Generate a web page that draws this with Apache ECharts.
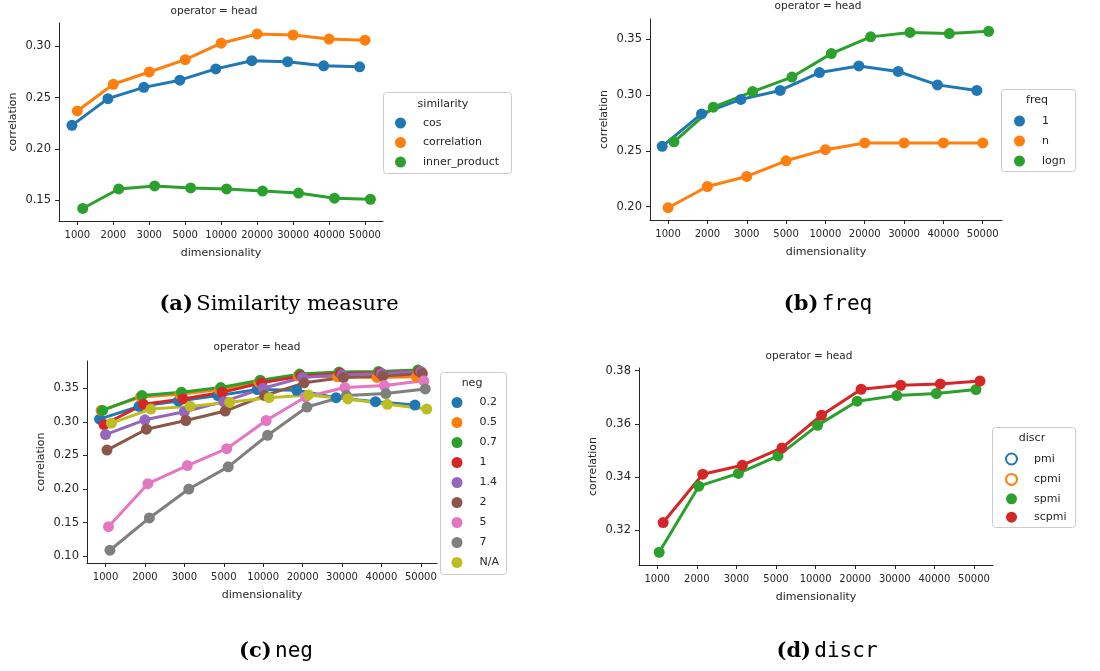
<!DOCTYPE html>
<html>
<head>
<meta charset="utf-8">
<script src="https://cdn.jsdelivr.net/npm/echarts@6/dist/echarts.min.js"></script>
<style>
  html, body { margin: 0; padding: 0; background: #fff; }
  #main { width: 1100px; height: 671px; }
</style>
</head>
<body>
<div id="main"></div>
<script>
// x categories (shared by all four panels)
var dims = ['1000', '2000', '3000', '5000', '10000', '20000', '30000', '40000', '50000'];

// (a) similarity
var simCos         = [0.223, 0.249, 0.260, 0.267, 0.278, 0.286, 0.285, 0.281, 0.280];
var simCorrelation = [0.237, 0.263, 0.275, 0.287, 0.303, 0.312, 0.311, 0.307, 0.306];
var simInner       = [0.142, 0.161, 0.164, 0.162, 0.161, 0.159, 0.157, 0.152, 0.151];

// (b) freq
var freqOne  = [0.254, 0.283, 0.296, 0.304, 0.320, 0.326, 0.321, 0.309, 0.304];
var freqN    = [0.199, 0.218, 0.227, 0.241, 0.251, 0.257, 0.257, 0.257, 0.257];
var freqLogn = [0.258, 0.289, 0.303, 0.316, 0.337, 0.352, 0.356, 0.355, 0.357];

// (c) neg
var neg02 = [0.304, 0.323, 0.331, 0.339, 0.348, 0.347, 0.336, 0.330, 0.325];
var neg05 = [0.317, 0.337, 0.341, 0.348, 0.359, 0.368, 0.367, 0.366, 0.367];
var neg07 = [0.317, 0.339, 0.344, 0.351, 0.362, 0.371, 0.374, 0.375, 0.377];
var neg1  = [0.296, 0.326, 0.334, 0.344, 0.358, 0.368, 0.372, 0.373, 0.375];
var neg14 = [0.281, 0.303, 0.315, 0.330, 0.350, 0.366, 0.370, 0.372, 0.375];
var neg2  = [0.258, 0.289, 0.302, 0.316, 0.339, 0.358, 0.366, 0.368, 0.372];
var neg5  = [0.144, 0.208, 0.235, 0.260, 0.302, 0.337, 0.351, 0.354, 0.361];
var neg7  = [0.109, 0.157, 0.200, 0.233, 0.280, 0.322, 0.339, 0.342, 0.349];
var negNA = [0.298, 0.319, 0.323, 0.329, 0.336, 0.340, 0.334, 0.326, 0.319];

// (d) discr
var discrSpmi  = [0.3116, 0.3365, 0.3413, 0.3479, 0.3594, 0.3685, 0.3706, 0.3714, 0.3729];
var discrScpmi = [0.3228, 0.3410, 0.3444, 0.3509, 0.3632, 0.3730, 0.3745, 0.3750, 0.3761];

// tick labels
var yTicksA = [0.15, 0.20, 0.25, 0.30];
var yTicksB = [0.20, 0.25, 0.30, 0.35];
var yTicksC = [0.10, 0.15, 0.20, 0.25, 0.30, 0.35];
var yTicksD = [0.32, 0.34, 0.36, 0.38];

var pal = ['#1f77b4', '#ff7f0e', '#2ca02c', '#d62728', '#9467bd',
           '#8c564b', '#e377c2', '#7f7f7f', '#bcbd22'];
var ink = '#262626';
var font = 'DejaVu Sans';

var myChart = echarts.init(document.getElementById('main'));

var grids = [
    {left: 59,  top: 23,  width: 324, height: 198},
    {left: 650, top: 19,  width: 352, height: 201},
    {left: 87,  top: 361, width: 350, height: 202},
    {left: 639, top: 368, width: 354, height: 197}
];
var xRanges = [[-0.51, 8.5], [-0.46, 8.49], [-0.47, 8.41], [-0.46, 8.48]];
var yRanges = [[0.1298, 0.3227], [0.188, 0.368], [0.090, 0.3905], [0.3068, 0.381]];
var yTicks = [yTicksA, yTicksB, yTicksC, yTicksD];

var xAxes = [], yAxes = [];
for (var g = 0; g < 4; g++) {
    xAxes.push({
        type: 'value', gridIndex: g,
        min: xRanges[g][0], max: xRanges[g][1],
        name: 'dimensionality', nameLocation: 'middle', nameGap: 27,
        nameTextStyle: {color: ink, fontFamily: font, fontSize: 11},
        splitLine: {show: false},
        axisLine: {show: true, onZero: false, lineStyle: {color: ink, width: 1}},
        axisTick: {show: true, inside: false, length: 4, lineStyle: {color: ink},
                   customValues: [0, 1, 2, 3, 4, 5, 6, 7, 8]},
        axisLabel: {color: ink, fontFamily: font, fontSize: 10, margin: 9,
                    customValues: [0, 1, 2, 3, 4, 5, 6, 7, 8],
                    formatter: function (v) { return dims[Math.round(v)]; }}
    });
    yAxes.push({
        type: 'value', gridIndex: g,
        min: yRanges[g][0], max: yRanges[g][1],
        name: 'correlation', nameLocation: 'middle', nameGap: 40,
        nameTextStyle: {color: ink, fontFamily: font, fontSize: 11},
        splitLine: {show: false},
        axisLine: {show: true, onZero: false, lineStyle: {color: ink, width: 1}},
        axisTick: {show: true, inside: false, length: 4, lineStyle: {color: ink},
                   customValues: yTicks[g]},
        axisLabel: {color: ink, fontFamily: font, fontSize: 11.5, margin: 8,
                    customValues: yTicks[g],
                    formatter: function (v) { return v.toFixed(2); }}
    });
}

var series = [];
function addPanel(g, names, colors, values) {
    var n = names.length;
    for (var i = 0; i < n; i++) {
        var off = n > 1 ? -0.15 + 0.3 * i / (n - 1) : 0;
        var vals = values[i] || [];
        var empty = !values[i];
        series.push({
            type: 'line', name: names[i],
            xAxisIndex: g, yAxisIndex: g,
            data: vals.map(function (v, k) { return [k + off, v]; }),
            symbol: 'circle', symbolSize: 11,
            lineStyle: {width: 3, color: colors[i]},
            itemStyle: empty ? {color: '#fff', borderColor: colors[i], borderWidth: 2}
                             : {color: colors[i]},
            emphasis: {disabled: true},
            silent: true
        });
    }
}
addPanel(0, ['cos', 'correlation', 'inner_product'], pal.slice(0, 3),
         [simCos, simCorrelation, simInner]);
addPanel(1, ['1', 'n', 'logn'], pal.slice(0, 3), [freqOne, freqN, freqLogn]);
addPanel(2, ['0.2', '0.5', '0.7', '1', '1.4', '2', '5', '7', 'N/A'], pal,
         [neg02, neg05, neg07, neg1, neg14, neg2, neg5, neg7, negNA]);
addPanel(3, ['pmi', 'cpmi', 'spmi', 'scpmi'], pal.slice(0, 4),
         [null, null, discrSpmi, discrScpmi]);

function legendOf(names, colors, left, top, gap, empties) {
    return {
        orient: 'vertical', left: left, top: top, padding: 0,
        itemWidth: 35, itemHeight: 11, itemGap: gap,
        selectedMode: false,
        textStyle: {color: ink, fontFamily: font, fontSize: 11, lineHeight: 11},
        data: names.map(function (nm, i) {
            if (empties && empties[i]) {
                return {name: nm, icon: 'circle',
                        itemStyle: {color: '#fff', borderColor: colors[i], borderWidth: 2}};
            }
            return {name: nm, icon: 'circle', itemStyle: {color: colors[i]}};
        })
    };
}

var legends = [
    legendOf(['cos', 'correlation', 'inner_product'], pal, 395, 117.5, 8.5),
    legendOf(['1', 'n', 'logn'], pal, 1014, 115.5, 9),
    legendOf(['0.2', '0.5', '0.7', '1', '1.4', '2', '5', '7', 'N/A'], pal, 451.5, 397, 9),
    legendOf(['pmi', 'cpmi', 'spmi', 'scpmi'], pal, 1005, 452.5, 7.4, [true, true, false, false])
];

function boxRect(x, y, w, h) {
    return {type: 'rect', z: 0, silent: true,
            shape: {x: x, y: y, width: w, height: h, r: 3},
            style: {fill: 'rgba(255,255,255,0.8)', stroke: '#cccccc', lineWidth: 1}};
}
function label(x, y, txt, size) {
    return {type: 'text', x: x, y: y, silent: true,
            style: {text: txt, align: 'center', verticalAlign: 'middle',
                    fill: ink, font: size + 'px "' + font + '"'}};
}
function caption(x, y, tag, body, mono) {
    return {type: 'text', x: x, y: y, silent: true,
            style: {text: '{b|' + tag + '} {t|' + body + '}',
                    align: 'center', verticalAlign: 'middle', fill: '#000',
                    rich: {
                        b: {fontFamily: 'DejaVu Serif', fontWeight: 'bold', fontSize: 21, fill: '#000'},
                        t: {fontFamily: mono ? 'DejaVu Sans Mono' : 'DejaVu Serif',
                            fontSize: 21, fill: '#000'}
                    }}};
}

var graphics = [
    boxRect(383.5, 92.5, 128, 81),
    boxRect(1001.5, 89.5, 74, 82),
    boxRect(440.5, 372.5, 66, 202),
    boxRect(992.5, 427.5, 83, 100),
    label(214, 11, 'operator = head', 10.5),
    label(818, 6, 'operator = head', 10.5),
    label(257, 347, 'operator = head', 10.5),
    label(809, 356, 'operator = head', 10.5),
    label(443, 104, 'similarity', 11),
    label(1037, 100, 'freq', 11),
    label(472, 383, 'neg', 11),
    label(1032, 438, 'discr', 11),
    caption(279, 305, '(a)', 'Similarity measure', false),
    caption(828, 305, '(b)', 'freq', true),
    caption(276, 652, '(c)', 'neg', true),
    caption(827, 652, '(d)', 'discr', true)
];

myChart.setOption({
    animation: false,
    backgroundColor: '#fff',
    grid: grids,
    xAxis: xAxes,
    yAxis: yAxes,
    legend: legends,
    graphic: graphics,
    series: series
});
</script>
</body>
</html>
